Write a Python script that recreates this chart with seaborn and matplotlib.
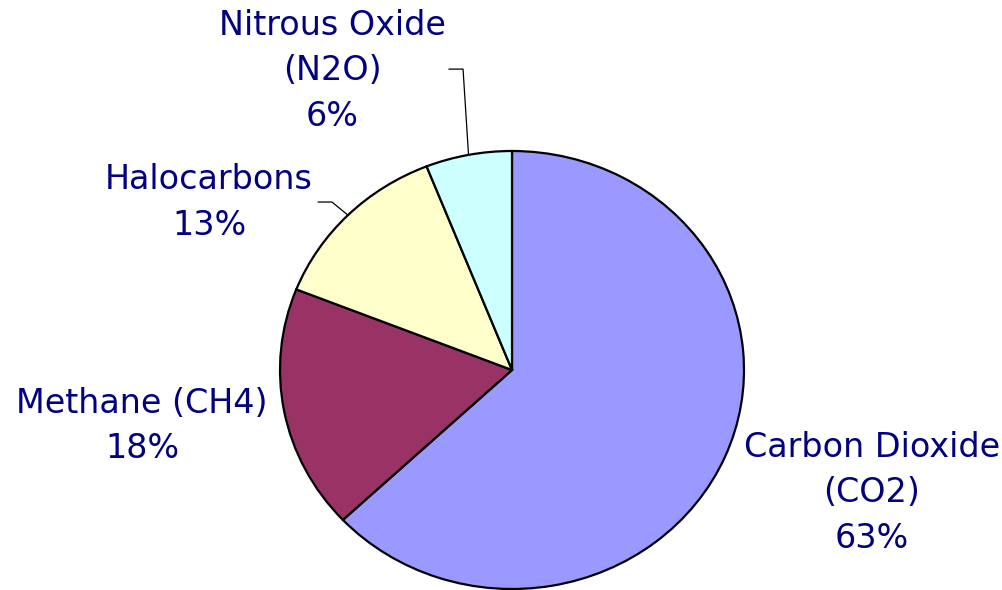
import numpy as np
import matplotlib
matplotlib.use("Agg")
import matplotlib.pyplot as plt
import seaborn as sns

# Data (clockwise from 12 o'clock)
gases = ["Carbon Dioxide (CO2)", "Methane (CH4)", "Halocarbons", "Nitrous Oxide (N2O)"]
shares = [63, 18, 13, 6]
colors = ["#9999FF", "#993366", "#FFFFCC", "#CCFFFF"]
label_lines = [
    ["Carbon Dioxide", "(CO2)", "63%"],
    ["Methane (CH4)", "18%"],
    ["Halocarbons", "13%"],
    ["Nitrous Oxide", "(N2O)", "6%"],
]
# label anchor: (center x, first baseline y) in data units of the pie axes
label_pos = [(1.550, -0.397), (-1.595, -0.196), (-1.306, 0.826), (-0.776, 1.530)]
# leader-line elbow points for the labels that have one
leaders = {2: [(-0.776, 0.767), (-0.836, 0.767)],
           3: [(-0.211, 1.374), (-0.272, 1.374)]}

sns.set_style("white")
plt.rcParams["font.family"] = ["DejaVu Sans"]

fig = plt.figure(figsize=(10.03, 5.90), dpi=100)
ax = fig.add_axes([280 / 1003, 1 / 590, 464 / 1003, 438 / 590])

wedges, _ = ax.pie(shares, colors=colors, startangle=90, counterclock=False,
                   radius=1.0, wedgeprops=dict(edgecolor="black", linewidth=1.6))
for w in wedges:
    w.set_clip_on(False)
ax.set_aspect("auto")
ax.set_xlim(-1, 1)
ax.set_ylim(-1, 1)
ax.axis("off")

step = 45.5 / 219
for i, lines in enumerate(label_lines):
    x0, y0 = label_pos[i]
    for j, line in enumerate(lines):
        ax.text(x0, y0 - j * step, line, ha="center", va="baseline",
                fontsize=24, color="#000080")

for i, pts in leaders.items():
    w = wedges[i]
    mid = np.deg2rad((w.theta1 + w.theta2) / 2)
    xs = [np.cos(mid)] + [p[0] for p in pts]
    ys = [np.sin(mid)] + [p[1] for p in pts]
    ax.plot(xs, ys, color="black", lw=0.9, clip_on=False)

fig.savefig("out.png", dpi=100, facecolor="white")
